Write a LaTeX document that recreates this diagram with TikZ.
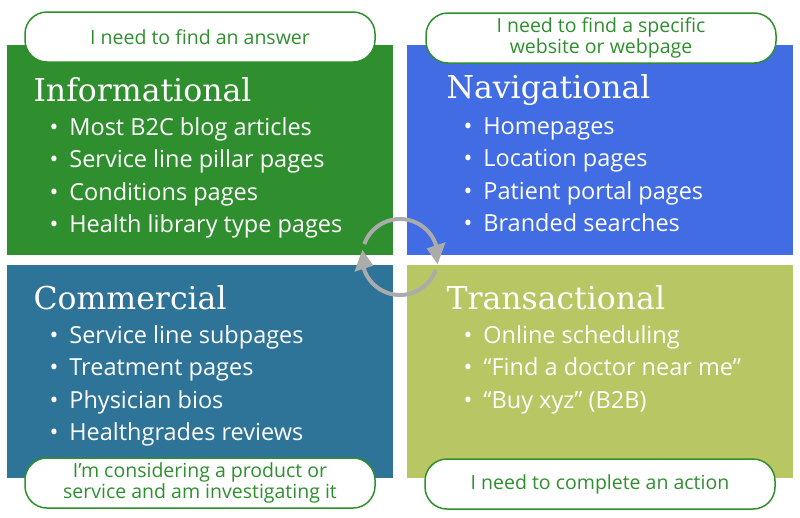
\documentclass[tikz,border=0pt]{standalone}
\usepackage{fontspec}
\setmainfont{Open Sans}
\newfontfamily\slab{DejaVu Serif}
\definecolor{cgreen}{HTML}{2F8F2F}
\definecolor{cblue}{HTML}{416CE3}
\definecolor{cteal}{HTML}{2E7398}
\definecolor{colive}{HTML}{B8C663}
\definecolor{ptext}{HTML}{2F8F2F}
\definecolor{cgray}{HTML}{ABABAB}
\begin{document}
\begin{tikzpicture}[x=1pt,y=-1pt,
  pill/.style={draw=cgreen,line width=1.5pt,fill=white,rounded corners=22pt,minimum width=350pt,minimum height=50pt,text=ptext,font=\fontsize{19.5}{21}\selectfont,align=center,inner sep=1pt},
  ttl/.style={anchor=west,text=white,font=\slab\fontsize{31.5}{33}\selectfont},
  lst/.style={anchor=north west,text=white,font=\fontsize{23.5}{32.5}\selectfont,align=left},
  cyc/.style={draw=cgray,line width=4pt}]
\useasboundingbox (0,0) rectangle (800,517);
\fill[cgreen] (7,45) rectangle (393,255);
\fill[cblue] (407,45) rectangle (793,255);
\fill[cteal] (7,265) rectangle (393,478);
\fill[colive] (407,265) rectangle (793,478);
\node[pill] (p1) at (200,37) {I need to find an answer};
\node[pill] (p2) at (601,38) {I need to find a specific\\website or webpage};
\node[pill] (p3) at (200,483) {I’m considering a product or\\service and am investigating it};
\node[pill] (p4) at (600,484) {I need to complete an action};
\node[ttl] (t1) at (30,90) {Informational};
\node[ttl] (t2) at (443,90) {Navigational};
\node[ttl] (t3) at (30,298) {Commercial};
\node[ttl] (t4) at (443,298) {Transactional};
\node[lst] (l1) at (46,114) {•\hspace{11pt}Most B2C blog articles\\•\hspace{11pt}Service line pillar pages\\•\hspace{11pt}Conditions pages\\•\hspace{11pt}Health library type pages};
\node[lst] (l2) at (460,114) {•\hspace{11pt}Homepages\\•\hspace{11pt}Location pages\\•\hspace{11pt}Patient portal pages\\•\hspace{11pt}Branded searches};
\node[lst] (l3) at (46,322) {•\hspace{11pt}Service line subpages\\•\hspace{11pt}Treatment pages\\•\hspace{11pt}Physician bios\\•\hspace{11pt}Healthgrades reviews};
\node[lst] (l4) at (460,322) {•\hspace{11pt}Online scheduling\\•\hspace{11pt}“Find a doctor near me”\\•\hspace{11pt}“Buy xyz” (B2B)};
\coordinate (c) at (400,257);
\draw[cyc] ([shift={(-160:38)}]c) arc[start angle=-160,end angle=-17,radius=38];
\draw[cyc] ([shift={(20:38)}]c) arc[start angle=20,end angle=163,radius=38];
\fill[cgray] (445.6,242.2) -- (426.6,248.4) -- (437.6,264) -- cycle;
\fill[cgray] (373.4,265.6) -- (354.4,271.8) -- (362.4,250) -- cycle;
\end{tikzpicture}
\end{document}
